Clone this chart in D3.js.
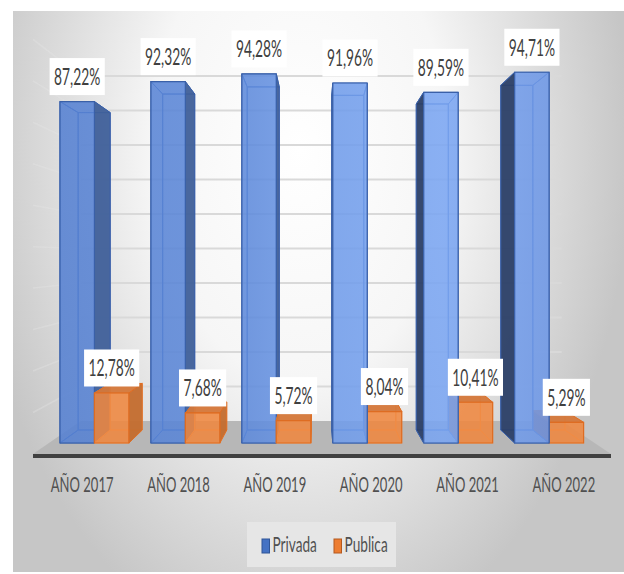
<!DOCTYPE html>
<html>
<head>
<meta charset="utf-8">
<script src="https://cdn.jsdelivr.net/npm/d3@7"></script>
<style>
  html, body { margin: 0; padding: 0; background: #fff; }
  text { font-family: Lato, "Open Sans", sans-serif; }
</style>
</head>
<body>
<div id="chart"></div>
<script>
// data
const categories = ["AÑO 2017", "AÑO 2018", "AÑO 2019", "AÑO 2020", "AÑO 2021", "AÑO 2022"];
const seriesNames = ["Privada", "Publica"];
const privada = [87.22, 92.32, 94.28, 91.96, 89.59, 94.71];
const publica = [12.78, 7.68, 5.72, 8.04, 10.41, 5.29];

const width = 624;
const height = 574;

// perspective: vanishing point and depth scales (floor front = 1)
const VP = [318, 258];
const S_BAR_FRONT = 0.944;
const S_BAR_BACK = 0.8775;
const S_WALL = 0.832;
const SX = 0.6; // narrow text

function P(X, Y, s) {
  return [VP[0] + (X - VP[0]) * s, VP[1] + (Y - VP[1]) * s];
}
const line = d3.line();
const poly = pts => line(pts) + "Z";

const svg = d3.select("#chart").append("svg")
  .attr("width", width)
  .attr("height", height);

const defs = svg.append("defs");
const bg = defs.append("radialGradient")
  .attr("id", "bg")
  .attr("gradientUnits", "userSpaceOnUse")
  .attr("cx", 300).attr("cy", 150).attr("r", 330)
  .attr("gradientTransform", "translate(300,150) scale(1,1.55) translate(-300,-150)");
bg.append("stop").attr("offset", 0).attr("stop-color", "#ffffff");
bg.append("stop").attr("offset", 0.45).attr("stop-color", "#f6f6f6");
bg.append("stop").attr("offset", 1).attr("stop-color", "#c6c6c6");

const blueFront = defs.append("linearGradient")
  .attr("id", "blueFront")
  .attr("gradientUnits", "userSpaceOnUse")
  .attr("x1", 40).attr("x2", 600).attr("y1", 0).attr("y2", 0);
[[0, "#5580d1"], [0.35, "#5c88d9"], [0.5, "#6f9be9"], [0.72, "#7ba6f2"], [1, "#6790e0"]]
  .forEach(s => blueFront.append("stop").attr("offset", s[0]).attr("stop-color", s[1]));

svg.append("rect")
  .attr("x", 13).attr("y", 11)
  .attr("width", width - 13).attr("height", height - 13)
  .attr("fill", "url(#bg)");

// scales (world coordinates on the floor front plane)
const x = d3.scaleBand()
  .domain(categories)
  .range([33, 611])
  .paddingInner(0.242)
  .paddingOuter(0.121);

const xSub = d3.scaleBand()
  .domain(seriesNames)
  .range([0, x.bandwidth()]);

const y = d3.scaleLinear()
  .domain([0, 100])
  .range([454, 454 - 414.7]);

const floorL = 33, floorR = 611;

// gridlines on back wall and side wall
const grid = svg.append("g");
y.ticks(10).filter(t => t > 0).forEach(t => {
  const a = P(floorL, y(t), S_WALL), b = P(floorR, y(t), S_WALL);
  grid.append("path").attr("d", line([a, b]))
    .attr("stroke", "#d9d9d9").attr("stroke-width", 2).attr("fill", "none");
  grid.append("path").attr("d", line([P(floorL, y(t), 1), a]))
    .attr("stroke", "#e6e6e6").attr("stroke-width", 1.5).attr("fill", "none")
    .attr("opacity", 0.35);
});

// floor
svg.append("path")
  .attr("d", poly([P(floorL, y(0), 1), P(floorR, y(0), 1), P(floorR, y(0), S_WALL), P(floorL, y(0), S_WALL)]))
  .attr("fill", "#b7b7b7");
svg.append("rect")
  .attr("x", floorL).attr("y", y(0))
  .attr("width", floorR - floorL).attr("height", 4)
  .attr("fill", "#404040");

// bars
const styles = {
  Privada: { front: "url(#blueFront)", sideR: "#40609a", sideL: "#2c4068", top: "#3d65ad", stroke: "#3a60a8", inner: "#3d68b8" },
  Publica: { front: "#ef8840", sideR: "#c46d2f", sideL: "#b3602a", top: "#d5783a", stroke: "#de6c22", inner: "#f2a163" }
};

const bars = [];
categories.forEach((c, i) => {
  [privada, publica].forEach((vals, k) => {
    const name = seriesNames[k];
    const x0 = x(c) + xSub(name);
    bars.push({ cat: c, name: name, value: vals[i], x0: x0, x1: x0 + xSub.bandwidth() });
  });
});

const order = bars.slice().sort((a, b) =>
  Math.abs((b.x0 + b.x1) / 2 - VP[0]) - Math.abs((a.x0 + a.x1) / 2 - VP[0]));

const barG = svg.append("g");
order.forEach(d => {
  const st = styles[d.name];
  const yT = y(d.value), yB = y(0);
  const f = [P(d.x0, yT, S_BAR_FRONT), P(d.x1, yT, S_BAR_FRONT), P(d.x1, yB, S_BAR_FRONT), P(d.x0, yB, S_BAR_FRONT)];
  const b = [P(d.x0, yT, S_BAR_BACK), P(d.x1, yT, S_BAR_BACK), P(d.x1, yB, S_BAR_BACK), P(d.x0, yB, S_BAR_BACK)];
  const faces = {
    back: b,
    left: [f[0], b[0], b[3], f[3]],
    right: [f[1], b[1], b[2], f[2]],
    top: [f[0], f[1], b[1], b[0]],
    bottom: [f[3], f[2], b[2], b[3]]
  };
  const vis = {
    back: false,
    left: d.x0 > VP[0],
    right: d.x1 < VP[0],
    top: yT > VP[1],
    bottom: yB < VP[1]
  };
  const g = barG.append("g");
  // hidden edges, seen through the translucent faces
  Object.keys(faces).filter(k => !vis[k]).forEach(k => {
    g.append("path").attr("d", poly(faces[k]))
      .attr("fill", "none").attr("stroke", st.inner).attr("stroke-width", 1);
  });
  if (vis.left) g.append("path").attr("d", poly(faces.left)).attr("fill", st.sideL).attr("stroke", st.stroke).attr("opacity", 0.95);
  if (vis.right) g.append("path").attr("d", poly(faces.right)).attr("fill", st.sideR).attr("stroke", st.stroke).attr("opacity", 0.95);
  if (vis.top) g.append("path").attr("d", poly(faces.top)).attr("fill", st.top).attr("stroke", st.stroke).attr("opacity", 0.95);
  g.append("path").attr("d", poly(f))
    .attr("fill", st.front).attr("fill-opacity", 0.88)
    .attr("stroke", st.stroke).attr("stroke-width", 1.2);
});

// data labels
const labG = svg.append("g");
bars.forEach(d => {
  const top = P((d.x0 + d.x1) / 2, y(d.value), S_BAR_FRONT);
  const cx = top[0], cy = top[1] - 25;
  const g = labG.append("g");
  const rect = g.append("rect").attr("fill", "#ffffff");
  const t = g.append("text")
    .attr("transform", `translate(${cx},${cy}) scale(${SX},1)`)
    .attr("text-anchor", "middle")
    .attr("dy", "0.36em")
    .attr("font-size", 23)
    .attr("fill", "#404040")
    .text(d3.format(".2f")(d.value).replace(".", ",") + "%");
  const w = t.node().getComputedTextLength() * SX + 9;
  rect.attr("x", cx - w / 2).attr("y", cy - 18.5).attr("width", w).attr("height", 37);
});

// category labels
svg.append("g").selectAll("text")
  .data(categories)
  .join("text")
  .attr("transform", d => `translate(${x(d) + x.bandwidth() / 2 + 1},492) scale(${SX + 0.02},1)`)
  .attr("text-anchor", "middle")
  .attr("font-size", 21)
  .attr("fill", "#505050")
  .text(d => d);

// legend
const leg = svg.append("g");
leg.append("rect")
  .attr("x", 247).attr("y", 522).attr("width", 149).attr("height", 45)
  .attr("fill", "#e6e6e6");
const legItems = [
  { name: seriesNames[0], x: 262, fill: "#4472c4", stroke: "#2f5597" },
  { name: seriesNames[1], x: 334, fill: "#ed7d31", stroke: "#b4591f" }
];
legItems.forEach(it => {
  leg.append("rect")
    .attr("x", it.x).attr("y", 539).attr("width", 7.5).attr("height", 14)
    .attr("fill", it.fill).attr("stroke", it.stroke).attr("stroke-width", 1);
  leg.append("text")
    .attr("transform", `translate(${it.x + 10.5},552) scale(${SX + 0.05},1)`)
    .attr("font-size", 21)
    .attr("fill", "#505050")
    .text(it.name);
});
</script>
</body>
</html>
